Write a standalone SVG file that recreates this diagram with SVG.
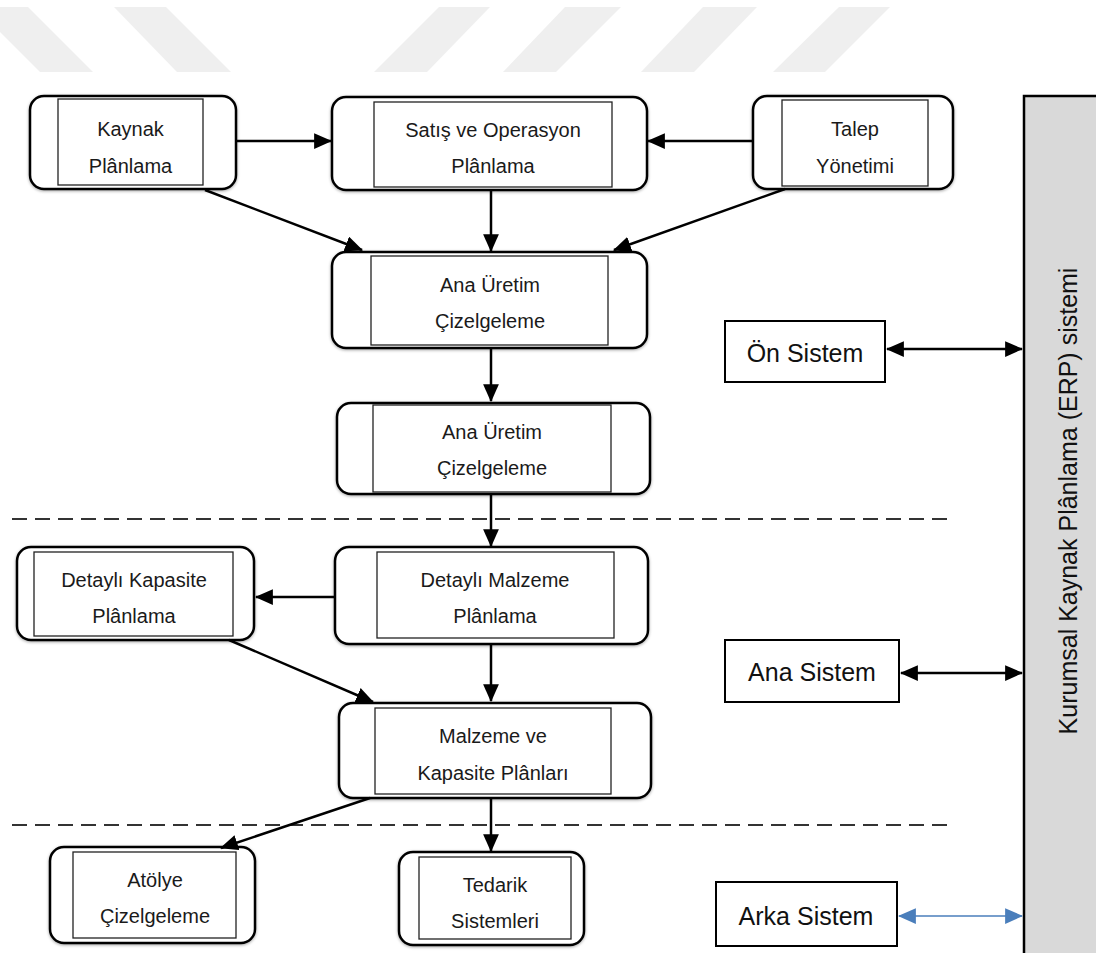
<svg xmlns="http://www.w3.org/2000/svg" width="1096" height="953" viewBox="0 0 1096 953">
<defs>
<filter id="sh" x="-10%" y="-10%" width="120%" height="125%">
<feDropShadow dx="0" dy="1" stdDeviation="1.6" flood-color="#000" flood-opacity="0.35"/>
</filter>
<marker id="ah" markerUnits="userSpaceOnUse" markerWidth="18" markerHeight="16" viewBox="0 0 16 14" refX="15" refY="7" orient="auto-start-reverse">
<path d="M0,0 L16,7 L0,14 z" fill="#000"/>
</marker>
<marker id="ahb" markerUnits="userSpaceOnUse" markerWidth="18" markerHeight="16" viewBox="0 0 16 14" refX="15" refY="7" orient="auto-start-reverse">
<path d="M0,0 L16,7 L0,14 z" fill="#4a7ebb"/>
</marker>
</defs>
<style>
.wm{fill:#efefef}
.outer{fill:#fff;stroke:#000;stroke-width:2.5;filter:url(#sh)}
.inner{fill:#fff;stroke:#222;stroke-width:1.3}
.box{fill:#fff;stroke:#000;stroke-width:2}
.t{font-family:"Liberation Sans",Arial,sans-serif;font-size:20px;fill:#1a1a1a;text-anchor:middle}
.tb{font-family:"Liberation Sans",Arial,sans-serif;font-size:25px;fill:#111;text-anchor:middle}
.c{stroke:#000;stroke-width:2.5;fill:none;marker-end:url(#ah)}
.d{stroke:#000;stroke-width:2.5;fill:none;marker-start:url(#ah);marker-end:url(#ah)}
.db{stroke:#4a7ebb;stroke-width:1.6;fill:none;marker-start:url(#ahb);marker-end:url(#ahb)}
.dash{stroke:#333;stroke-width:2;stroke-dasharray:15 8;fill:none}
</style>
<rect width="1096" height="953" fill="#fff"/>
<g id="watermark">
<polygon class="wm" points="-25,7 28,7 93,72 40,72"/>
<polygon class="wm" points="114,7 166,7 231,72 177,72"/>
<polygon class="wm" points="439,7 490,7 427,72 374,72"/>
<polygon class="wm" points="565,7 621,7 556,72 503,72"/>
<polygon class="wm" points="703,7 757,7 694,72 641,72"/>
<polygon class="wm" points="839,7 890,7 825,72 773,72"/>
</g>
<g id="separators">
<line class="dash" x1="12" y1="519" x2="948" y2="519"/>
<line class="dash" x1="12" y1="825" x2="948" y2="825"/>
</g>
<g id="erp">
<rect x="1024" y="96" width="80" height="870" fill="#d9d9d9" stroke="#000" stroke-width="2.5"/>
<text class="tb" transform="translate(1077,501) rotate(-90)">Kurumsal Kaynak Plânlama (ERP) sistemi</text>
</g>
<g id="kaynak">
<rect class="outer" x="30" y="96" width="206" height="93" rx="14"/>
<rect class="inner" x="58" y="99" width="145" height="86"/>
<text class="t" x="130.5" y="136">Kaynak</text>
<text class="t" x="130.5" y="173">Plânlama</text>
</g>
<g id="satis">
<rect class="outer" x="332" y="97" width="315" height="93" rx="14"/>
<rect class="inner" x="374" y="102" width="238" height="85"/>
<text class="t" x="493" y="137">Satış ve Operasyon</text>
<text class="t" x="493" y="173">Plânlama</text>
</g>
<g id="talep">
<rect class="outer" x="753" y="96" width="200" height="93" rx="14"/>
<rect class="inner" x="782" y="100" width="146" height="86"/>
<text class="t" x="855" y="136">Talep</text>
<text class="t" x="855" y="173">Yönetimi</text>
</g>
<g id="ana1">
<rect class="outer" x="332" y="252" width="315" height="96" rx="14"/>
<rect class="inner" x="371" y="256" width="237" height="89"/>
<text class="t" x="490" y="292">Ana Üretim</text>
<text class="t" x="490" y="328">Çizelgeleme</text>
</g>
<g id="ana2">
<rect class="outer" x="337" y="403" width="313" height="91" rx="14"/>
<rect class="inner" x="373" y="405" width="238" height="87"/>
<text class="t" x="492" y="439">Ana Üretim</text>
<text class="t" x="492" y="475">Çizelgeleme</text>
</g>
<g id="detayliKapasite">
<rect class="outer" x="17" y="547" width="237" height="93" rx="14"/>
<rect class="inner" x="34" y="552" width="199" height="84"/>
<text class="t" x="134" y="587">Detaylı Kapasite</text>
<text class="t" x="134" y="623">Plânlama</text>
</g>
<g id="detayliMalzeme">
<rect class="outer" x="335" y="547" width="313" height="97" rx="14"/>
<rect class="inner" x="377" y="552" width="237" height="86"/>
<text class="t" x="495" y="587">Detaylı Malzeme</text>
<text class="t" x="495" y="623">Plânlama</text>
</g>
<g id="malzemeKapasite">
<rect class="outer" x="339" y="703" width="312" height="95" rx="14"/>
<rect class="inner" x="375" y="708" width="236" height="86"/>
<text class="t" x="493" y="743">Malzeme ve</text>
<text class="t" x="493" y="780">Kapasite Plânları</text>
</g>
<g id="atolye">
<rect class="outer" x="50" y="847" width="205" height="96" rx="14"/>
<rect class="inner" x="73" y="852" width="163" height="86"/>
<text class="t" x="155" y="887">Atölye</text>
<text class="t" x="155" y="923">Çizelgeleme</text>
</g>
<g id="tedarik">
<rect class="outer" x="399" y="852" width="185" height="93" rx="14"/>
<rect class="inner" x="419" y="857" width="152" height="82"/>
<text class="t" x="495" y="892">Tedarik</text>
<text class="t" x="495" y="928">Sistemleri</text>
</g>
<g id="onSistem">
<rect class="box" x="725" y="321" width="160" height="61"/>
<text class="tb" x="805" y="362">Ön Sistem</text>
</g>
<g id="anaSistem">
<rect class="box" x="725" y="640" width="174" height="62"/>
<text class="tb" x="812" y="681">Ana Sistem</text>
</g>
<g id="arkaSistem">
<rect class="box" x="716" y="882" width="181" height="64"/>
<text class="tb" x="806" y="925">Arka Sistem</text>
</g>
<g id="connectors">
<line class="c" x1="236" y1="141" x2="331" y2="141"/>
<line class="c" x1="753" y1="141" x2="648" y2="141"/>
<line class="c" x1="491" y1="190" x2="491" y2="251"/>
<line class="c" x1="205" y1="190" x2="362" y2="250"/>
<line class="c" x1="785" y1="189" x2="614" y2="250"/>
<line class="c" x1="491" y1="348" x2="491" y2="401"/>
<line class="c" x1="491" y1="494" x2="491" y2="546"/>
<line class="c" x1="335" y1="597" x2="256" y2="597"/>
<line class="c" x1="491" y1="644" x2="491" y2="701"/>
<line class="c" x1="229" y1="640" x2="373" y2="702"/>
<line class="c" x1="370" y1="798" x2="221" y2="848"/>
<line class="c" x1="491" y1="798" x2="491" y2="851"/>
<line class="d" x1="887" y1="349" x2="1022" y2="349"/>
<line class="d" x1="901" y1="673" x2="1022" y2="673"/>
<line class="db" x1="899" y1="916" x2="1022" y2="916"/>
</g>
</svg>
